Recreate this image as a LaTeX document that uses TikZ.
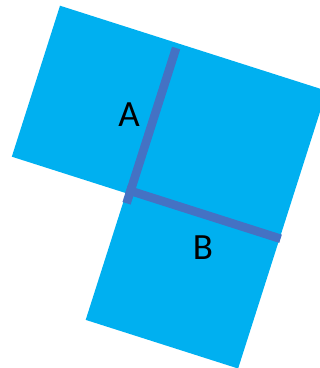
\documentclass[tikz,border=0pt]{standalone}
\usepackage{fontspec}
\setmainfont{Carlito}
\definecolor{sqcyan}{HTML}{00B0F0}
\definecolor{segblue}{HTML}{4472C4}
\tikzset{
  sq/.style={fill=sqcyan, draw=none},
  seg/.style={draw=segblue, line width=8.6pt},
  lbl/.style={inner sep=0pt, font=\fontsize{37}{40}\selectfont, text=black}
}
\begin{document}
\begin{tikzpicture}[x=1pt,y=1pt]
\useasboundingbox (0,0) rectangle (320,-368);
\clip (0,0) rectangle (320,-368);
\begin{scope}[shift={(60,-5.7)}, rotate=-17.7]
  \fill[sq] (0,0) rectangle (121,-158.5)
            (120,0) rectangle (280,-159.5)
            (120,-158.5) rectangle (280,-291.5);
  \coordinate (atop) at (123.5,-5);
  \coordinate (abot) at (123.5,-168);
  \coordinate (bleft) at (119.2,-155);
  \coordinate (bright) at (281,-155);
  \draw[seg] (atop) -- (abot);
  \draw[seg] (bleft) -- (bright);
\end{scope}
\node[lbl] (la) at (129,-115) {A};
\node[lbl] (lb) at (203,-248) {B};
\end{tikzpicture}
\end{document}
